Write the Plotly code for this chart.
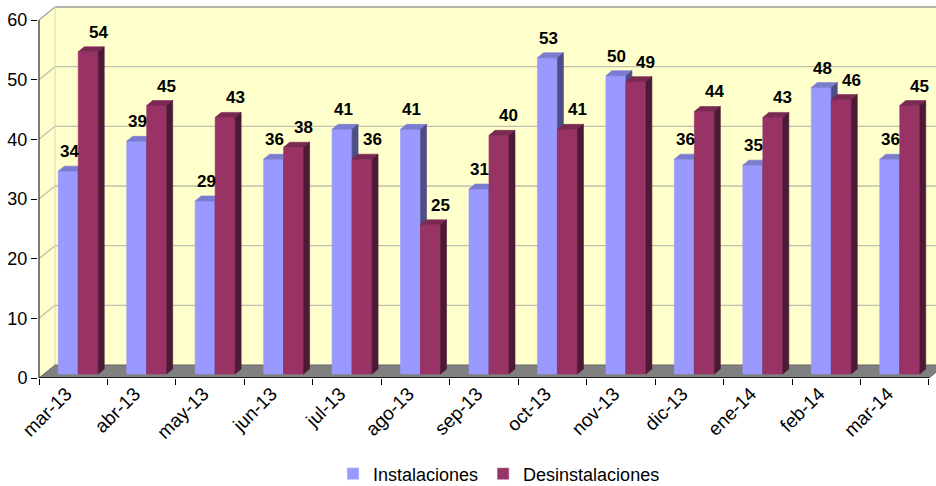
import plotly.graph_objects as go

# ---------------- data ----------------
meses = ["mar-13", "abr-13", "may-13", "jun-13", "jul-13", "ago-13", "sep-13",
         "oct-13", "nov-13", "dic-13", "ene-14", "feb-14", "mar-14"]
instalaciones = [34, 39, 29, 36, 41, 41, 31, 53, 50, 36, 35, 48, 36]
desinstalaciones = [54, 45, 43, 38, 36, 25, 40, 41, 49, 44, 43, 46, 45]
y_ticks = [0, 10, 20, 30, 40, 50, 60]

# ---------------- geometry (pixels -> data units) ----------------
W, H = 936, 486
L, R, T, B = 38, 936, 4, 378          # plot area in pixels
UX = 68.46                             # px per category
UY = 358 / 60                          # px per y unit
X0 = -0.5 - (39 - L) / UX
X1 = X0 + (R - L) / UX
Y1 = (B - T) / UY
DX, DY = 16 / UX, 13 / UY              # wall depth
FX, FY = 5 / UX, 4 / UY                # bar front-face depth offset
BX, BY = 6 / UX, 5 / UY                # bar depth
BW = 20 / UX                           # bar width
n = len(meses)
NX = n - 0.5                           # right end of floor (front)

FONT = "Liberation Sans, Arial, sans-serif"

BLUE = dict(front="#9999FF", top="#7B7BD0", side="#4D4D88")
RED = dict(front="#993366", top="#7B2953", side="#4D1A35")


def faces(vals, left_off):
    fx, fy, tx, ty, sx, sy = [], [], [], [], [], []
    for i, v in enumerate(vals):
        xl = i + FX + left_off
        xr = xl + BW
        yb = FY
        yt = v + FY
        fx += [xl, xr, xr, xl, xl, None]
        fy += [yb, yb, yt, yt, yb, None]
        tx += [xl, xr, xr + BX, xl + BX, xl, None]
        ty += [yt, yt, yt + BY, yt + BY, yt, None]
        sx += [xr, xr + BX, xr + BX, xr, xr, None]
        sy += [yb, yb + BY, yt + BY, yt, yb, None]
    return (fx, fy), (tx, ty), (sx, sy)


def poly(xy, color):
    return go.Scatter(x=xy[0], y=xy[1], mode="lines", fill="toself",
                      fillcolor=color, line=dict(color=color, width=0.6),
                      hoverinfo="skip", showlegend=False)


fig = go.Figure()

bf, bt, bs = faces(instalaciones, -BW)
rf, rt, rs = faces(desinstalaciones, 0)
fig.add_trace(poly(bf, BLUE["front"]))
fig.add_trace(poly(bt, BLUE["top"]))
fig.add_trace(poly(bs, BLUE["side"]))
fig.add_trace(poly(rf, RED["front"]))
fig.add_trace(poly(rt, RED["top"]))
fig.add_trace(poly(rs, RED["side"]))

# legend entries
fig.add_trace(go.Bar(x=[None], y=[None], name="Instalaciones",
                     marker_color=BLUE["front"], showlegend=True))
fig.add_trace(go.Bar(x=[None], y=[None], name="Desinstalaciones",
                     marker_color=RED["front"], showlegend=True))

# ---------------- walls, floor, gridlines ----------------
shapes = []
WALL = "#FFFFCC"
EDGE = "#9A9A9A"
GRID = "#C0C0B0"
# left wall
shapes.append(dict(type="path", xref="x", yref="y", layer="below",
                   path=f"M{-0.5},0 L{-0.5},{y_ticks[-1]} L{-0.5+DX},{y_ticks[-1]+DY} L{-0.5+DX},{DY} Z",
                   fillcolor=WALL, line=dict(width=0)))
# back wall
shapes.append(dict(type="rect", xref="x", yref="y", layer="below",
                   x0=-0.5 + DX, x1=NX + DX, y0=DY, y1=y_ticks[-1] + DY,
                   fillcolor=WALL, line=dict(width=0)))
for g in y_ticks[1:]:
    shapes.append(dict(type="line", xref="x", yref="y", layer="below",
                       x0=-0.5 + DX, x1=NX + DX, y0=g + DY, y1=g + DY,
                       line=dict(color=GRID, width=1.3)))
    shapes.append(dict(type="line", xref="x", yref="y", layer="below",
                       x0=-0.5, x1=-0.5 + DX, y0=g, y1=g + DY,
                       line=dict(color=GRID, width=1.3)))
# wall outline
shapes.append(dict(type="path", xref="x", yref="y", layer="below",
                   path=f"M{-0.5},{y_ticks[-1]} L{-0.5+DX},{y_ticks[-1]+DY} L{NX+DX},{y_ticks[-1]+DY}",
                   line=dict(color=EDGE, width=1)))
shapes.append(dict(type="line", xref="x", yref="y", layer="below",
                   x0=-0.5 + DX, x1=-0.5 + DX, y0=DY, y1=y_ticks[-1] + DY,
                   line=dict(color="#D8D8B8", width=1)))
# floor
shapes.append(dict(type="path", xref="x", yref="y", layer="below",
                   path=f"M{-0.5},0 L{NX},0 L{NX+DX},{DY} L{-0.5+DX},{DY} Z",
                   fillcolor="#808080", line=dict(color="#666666", width=1)))
# axis lines
shapes.append(dict(type="line", xref="x", yref="y", layer="below",
                   x0=-0.5, x1=-0.5, y0=0, y1=y_ticks[-1],
                   line=dict(color="#000000", width=1)))
shapes.append(dict(type="line", xref="x", yref="y", layer="above",
                   x0=-0.5, x1=NX, y0=0, y1=0,
                   line=dict(color="#000000", width=1.5)))

# ---------------- data labels ----------------
LBL = dict(family=FONT, size=17, color="#000000", weight="bold")
ann = []
for i, v in enumerate(instalaciones):
    ann.append(dict(x=i + FX - BW / 2, y=v + FY + BY, xref="x", yref="y",
                    text=str(v), showarrow=False, yanchor="bottom",
                    xshift=1, yshift=3, font=LBL))
for i, v in enumerate(desinstalaciones):
    ann.append(dict(x=i + FX + BW / 2, y=v + FY + BY, xref="x", yref="y",
                    text=str(v), showarrow=False, yanchor="bottom",
                    xshift=10, yshift=3, font=LBL))

fig.update_layout(
    width=W, height=H,
    margin=dict(l=L, r=W - R, t=T, b=H - B, autoexpand=False),
    paper_bgcolor="#FFFFFF", plot_bgcolor="rgba(0,0,0,0)",
    font=dict(family=FONT, color="#000000"),
    shapes=shapes, annotations=ann,
    showlegend=True,
    legend=dict(orientation="h", x=0.5 + 12 / (R - L), xanchor="center",
                y=(B - 474) / (B - T), yanchor="middle",
                font=dict(family=FONT, size=18, color="#000000"),
                bgcolor="rgba(0,0,0,0)"),
    xaxis=dict(range=[X0, X1], showgrid=False, zeroline=False, showline=False,
               tickmode="array", tickvals=list(range(n)), ticktext=meses,
               ticks="", tickangle=-45, automargin=False, ticklabelshift=-7,
               tickfont=dict(family=FONT, size=19, color="#000000"),
               minor=dict(tickmode="array", tickvals=[i - 0.5 for i in range(n + 1)],
                          ticks="outside", ticklen=6, tickcolor="#000000", tickwidth=1,
                          showgrid=False)),
    yaxis=dict(range=[0, Y1], showgrid=False, zeroline=False, showline=False,
               tickmode="array", tickvals=y_ticks, ticks="outside", ticklen=6,
               tickcolor="#000000", automargin=False,
               tickfont=dict(family=FONT, size=18, color="#000000")),
)

fig.write_html("out.html", config={"displayModeBar": False},
               post_script="document.body.style.margin='0';document.body.style.padding='0';")
